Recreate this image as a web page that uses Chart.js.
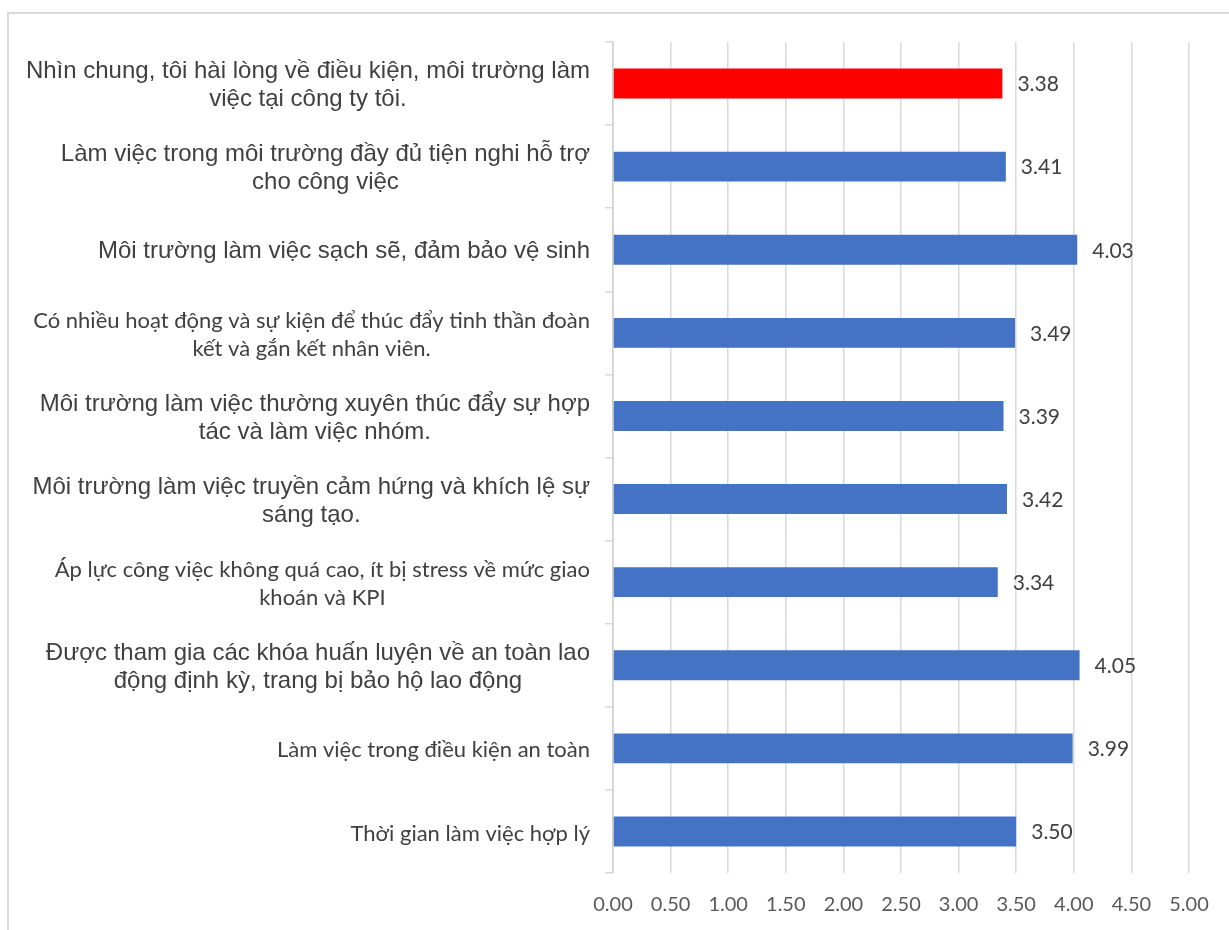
<!DOCTYPE html>
<html>
<head>
<meta charset="utf-8">
<script src="https://cdn.jsdelivr.net/npm/chart.js@4/dist/chart.umd.min.js"></script>
<style>
body { margin: 0; background: #fff; }
#wrap { position: relative; width: 1229px; height: 930px; overflow: hidden; }
#frame { position: absolute; left: 7px; top: 12px; width: 1300px; height: 1000px;
         border-top: 2px solid #d9d9d9; border-left: 2px solid #d9d9d9; }
#chart { position: absolute; left: 0; top: 0; }
</style>
</head>
<body>
<div id="wrap">
  <div id="frame"></div>
  <canvas id="chart" width="1229" height="930"></canvas>
</div>
<script>
// category labels, already split the way the chart wraps them
var categories = [
    ['Nhìn chung, tôi hài lòng về điều kiện, môi trường làm', 'việc tại công ty tôi.'],
    ['Làm việc trong môi trường đầy đủ tiện nghi hỗ trợ', 'cho công việc'],
    ['Môi trường làm việc sạch sẽ, đảm bảo vệ sinh'],
    ['Có nhiều hoạt động và sự kiện để thúc đẩy tinh thần đoàn', 'kết và gắn kết nhân viên.'],
    ['Môi trường làm việc thường xuyên thúc đẩy sự hợp', 'tác và làm việc nhóm.'],
    ['Môi trường làm việc truyền cảm hứng và khích lệ sự', 'sáng tạo.'],
    ['Áp lực công việc không quá cao, ít bị stress về mức giao', 'khoán và KPI'],
    ['Được tham gia các khóa huấn luyện về an toàn lao', 'động định kỳ, trang bị bảo hộ lao động'],
    ['Làm việc trong điều kiện an toàn'],
    ['Thời gian làm việc hợp lý']
];
var scores = [3.38, 3.41, 4.03, 3.49, 3.39, 3.42, 3.34, 4.05, 3.99, 3.50];
var xTicks = [0, 0.5, 1, 1.5, 2, 2.5, 3, 3.5, 4, 4.5, 5];

// styling
var ARIAL = '"Liberation Sans", Arial, sans-serif';
var CALIBRI = 'Lato, "Open Sans", sans-serif';
var labelFont = [
    '24px ' + ARIAL, '24px ' + ARIAL, '24px ' + ARIAL, '22px ' + CALIBRI, '24px ' + ARIAL,
    '24px ' + ARIAL, '22px ' + CALIBRI, '24px ' + ARIAL, '22px ' + CALIBRI, '22px ' + CALIBRI
];
var barColors = scores.map(function(v, i) { return i === 0 ? '#ff0000' : '#4472c4'; });

var catLabels = {
    id: 'catLabels',
    afterDraw: function(chart) {
        var ctx = chart.ctx, ys = chart.scales.y;
        var right = ys.right - 23, lineH = 28;
        ctx.save();
        ctx.fillStyle = '#404040';
        ctx.textAlign = 'center';
        ctx.textBaseline = 'middle';
        categories.forEach(function(lines, i) {
            ctx.font = labelFont[i];
            var w = 0;
            lines.forEach(function(l) { w = Math.max(w, ctx.measureText(l).width); });
            var cy = ys.getPixelForTick(i) + 2;
            var top = cy - (lines.length - 1) * lineH / 2;
            lines.forEach(function(l, k) {
                ctx.fillText(l, right - w / 2, top + k * lineH);
            });
        });
        ctx.restore();
    }
};

var valueLabels = {
    id: 'valueLabels',
    afterDatasetsDraw: function(chart) {
        var ctx = chart.ctx;
        var meta = chart.getDatasetMeta(0);
        ctx.save();
        ctx.font = '21px ' + CALIBRI;
        ctx.fillStyle = '#404040';
        ctx.textAlign = 'left';
        ctx.textBaseline = 'middle';
        meta.data.forEach(function(bar, i) {
            ctx.fillText(scores[i].toFixed(2), bar.x + 15, bar.y + 1);
        });
        ctx.restore();
    }
};

new Chart(document.getElementById('chart').getContext('2d'), {
    type: 'bar',
    data: {
        labels: categories,
        datasets: [{
            data: scores,
            backgroundColor: barColors,
            borderWidth: 0,
            barPercentage: 0.6,
            categoryPercentage: 0.6
        }]
    },
    options: {
        indexAxis: 'y',
        responsive: false,
        animation: false,
        layout: { padding: { top: 42, right: 40, left: 0, bottom: 0 } },
        plugins: {
            legend: { display: false },
            tooltip: { enabled: false }
        },
        scales: {
            y: {
                grid: { offset: true, drawOnChartArea: false, drawTicks: true, tickLength: 8, color: '#d9d9d9', lineWidth: 1.5 },
                border: { color: '#d0d0d0', width: 1.5 },
                ticks: { display: false },
                afterFit: function(scale) { scale.width = 613; }
            },
            x: {
                min: 0,
                max: 5,
                afterBuildTicks: function(scale) {
                    scale.ticks = xTicks.map(function(v) { return { value: v }; });
                },
                grid: { color: '#d9d9d9', lineWidth: 1.5, drawTicks: false },
                border: { display: false },
                ticks: {
                    padding: 20,
                    color: '#595959',
                    font: { family: CALIBRI, size: 20 },
                    callback: function(v) { return Number(v).toFixed(2); }
                },
                afterFit: function(scale) { scale.height = 57; }
            }
        }
    },
    plugins: [catLabels, valueLabels]
});
</script>
</body>
</html>
